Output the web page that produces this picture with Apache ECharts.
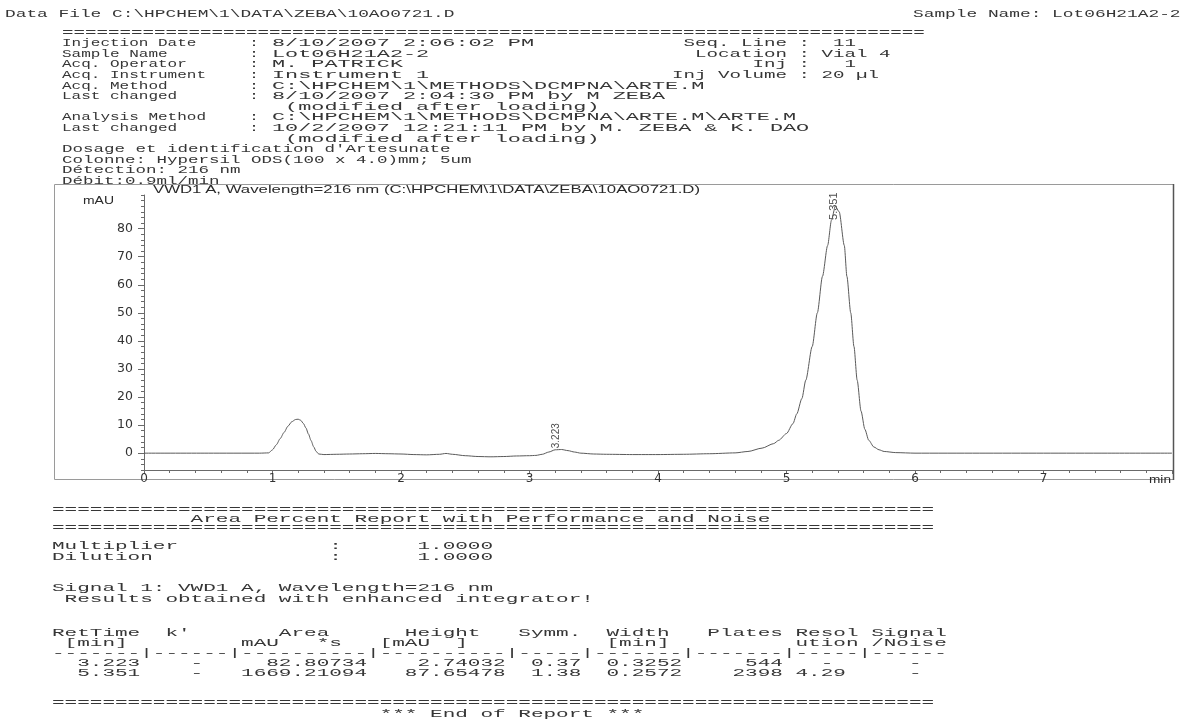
<!DOCTYPE html>
<html><head><meta charset="utf-8">
<script src="https://cdn.jsdelivr.net/npm/echarts@6/dist/echarts.min.js"></script>
<style>
html,body{margin:0;padding:0;background:#fff;}
#wrap{position:relative;width:1184px;height:727px;overflow:hidden;background:#fff;}
#chart{position:absolute;left:0;top:0;width:1184px;height:727px;}
.t{position:absolute;white-space:pre;font-family:"Liberation Mono","DejaVu Sans Mono",monospace;color:#363636;transform-origin:0 0;margin:0;}
.s{position:absolute;white-space:pre;font-family:"Liberation Sans",Arial,sans-serif;color:#2a2a2a;transform-origin:0 0;margin:0;}
</style></head><body><div id="wrap"><div id="chart"></div></div>
<script>
// ---------- chart data ----------
const timeMin = [
  0, 0.5, 0.9, 0.97, 1.0, 1.03, 1.06, 1.09, 1.12, 1.15,
  1.18, 1.2, 1.22, 1.24, 1.26, 1.28, 1.3, 1.32, 1.34, 1.36,
  1.4, 1.5, 1.6, 1.7, 1.8, 1.9, 2.0, 2.1, 2.2, 2.3,
  2.35, 2.4, 2.5, 2.6, 2.7, 2.8, 2.9, 3.0, 3.05, 3.1,
  3.15, 3.2, 3.25, 3.3, 3.35, 3.4, 3.5, 3.6, 3.8, 4.0,
  4.2, 4.4, 4.6, 4.7, 4.81, 4.9, 4.94, 5.0, 5.05, 5.08,
  5.12, 5.15, 5.2, 5.24, 5.28, 5.32, 5.35, 5.38, 5.41, 5.45,
  5.47, 5.5, 5.525, 5.55, 5.58, 5.61, 5.64, 5.68, 5.72, 5.76,
  5.85, 6.0, 6.5, 7.0, 7.5, 8.0
];
const signalMAU = [
  0, 0, 0, 0.1, 1.2, 3.0, 5.2, 7.4, 9.6, 11.2,
  12.0, 12.1, 11.7, 10.6, 9.0, 6.8, 4.5, 2.3, 0.6, -0.3,
  -0.5, -0.4, -0.3, -0.2, -0.1, -0.2, -0.3, -0.5, -0.6, -0.4,
  -0.1, -0.4, -0.9, -1.2, -1.3, -1.2, -1.0, -0.9, -0.8, -0.4,
  0.4, 1.2, 1.3, 0.9, 0.4, 0.0, -0.3, -0.4, -0.5, -0.5,
  -0.4, -0.2, 0.1, 0.6, 1.8, 3.4, 4.6, 7.0, 10.5, 14.0,
  19.5, 26, 38, 50, 63, 74, 83, 88, 86, 74,
  63, 50, 38, 26, 15, 8.5, 4.6, 2.2, 1.2, 0.6,
  0.2, 0, 0, 0, 0, 0
];
const xTickLabels = ['0','1','2','3','4','5','6','7'];
const yTickValues = [0,10,20,30,40,50,60,70,80];
const peakLabels = ['3.223','5.351'];
const peakApexTime = [3.23, 5.38];
const peakApexMAU = [1.4, 88];

// ---------- report text ----------
const dataFileLine = 'Data File C:\\HPCHEM\\1\\DATA\\ZEBA\\10AO0721.D';
const sampleNameTop = 'Sample Name: Lot06H21A2-2';
const headerLabels = [
  'Injection Date', 'Sample Name', 'Acq. Operator', 'Acq. Instrument', 'Acq. Method',
  'Last changed', '', 'Analysis Method', 'Last changed', ''
];
const headerValues = [
  '8/10/2007 2:06:02 PM',
  'Lot06H21A2-2',
  'M. PATRICK',
  'Instrument 1',
  'C:\\HPCHEM\\1\\METHODS\\DCMPNA\\ARTE.M',
  '8/10/2007 2:04:30 PM by M ZEBA',
  ' (modified after loading)',
  'C:\\HPCHEM\\1\\METHODS\\DCMPNA\\ARTE.M\\ARTE.M',
  '10/2/2007 12:21:11 PM by M. ZEBA & K. DAO',
  ' (modified after loading)'
];
const headerNotes = [
  "Dosage et identification d'Artesunate",
  'Colonne: Hypersil ODS(100 x 4.0)mm; 5um',
  'Détection: 216 nm',
  'Débit:0.9ml/min'
];
const headerRight = [
  ' Seq. Line :  11',
  '  Location : Vial 4',
  '       Inj :   1',
  'Inj Volume : 20 µl'
];
const chartTitle = 'VWD1 A, Wavelength=216 nm (C:\\HPCHEM\\1\\DATA\\ZEBA\\10AO0721.D)';

function place(parts){ let s=''; for(const [c,t] of parts){ while(s.length<c) s+=' '; s+=t; } return s; }
function placeR(parts){ return place(parts.map(([e,t])=>[e-t.length+1,t])); }
const eqLine = n => '='.repeat(n);

const tableLines = [
  place([[0,'RetTime'],[9,"k'"],[18,'Area'],[28,'Height'],[37,'Symm.'],[44,'Width'],[52,'Plates'],[59,'Resol'],[65,'Signal']]),
  place([[1,'[min]'],[15,'mAU'],[21,'*s'],[26,'[mAU'],[32,']'],[44,'[min]'],[59,'ution'],[65,'/Noise']]),
  '-------|------|----------|----------|-----|-------|-------|-----|------',
  placeR([[6,'3.223'],[11,'-'],[24,'82.80734'],[35,'2.74032'],[41,'0.37'],[49,'0.3252'],[57,'544'],[61,'-'],[68,'-']]),
  placeR([[6,'5.351'],[11,'-'],[24,'1669.21094'],[35,'87.65478'],[41,'1.38'],[49,'0.2572'],[57,'2398'],[62,'4.29'],[68,'-']])
];

// ---------- layout helpers ----------
const wrap = document.getElementById('wrap');
const FS = 10.5;
function mono(x, yc, charW, lines, lh){
  lh = lh || 10.6;
  const d = document.createElement('div');
  d.className = 't';
  d.style.left = x + 'px';
  d.style.top = (yc - lh/2) + 'px';
  d.style.fontSize = FS + 'px';
  d.style.lineHeight = lh + 'px';
  d.style.transform = 'scaleX(' + (charW/(FS*0.6)) + ')';
  d.textContent = lines.join('\n');
  wrap.appendChild(d);
  return d;
}
function sans(x, yc, w, text, fs){
  const d = document.createElement('div');
  d.className = 's';
  d.style.left = x + 'px';
  d.style.top = (yc - fs*0.6) + 'px';
  d.style.fontSize = fs + 'px';
  d.style.lineHeight = (fs*1.2) + 'px';
  d.textContent = text;
  wrap.appendChild(d);
  const nat = d.getBoundingClientRect().width;
  d.style.transform = 'scaleX(' + (w/nat) + ')';
  return d;
}

// ---------- chart ----------
const chart = echarts.init(document.getElementById('chart'), null, {renderer:'canvas', width:1184, height:727});
const axisColor = '#6a6a6a';
chart.setOption({
  animation:false,
  backgroundColor:'#fff',
  grid:{left:144, right:12, top:195, bottom:257},
  xAxis:{
    type:'value', min:0, max:8, interval:1,
    axisLine:{show:true, onZero:false, lineStyle:{color:axisColor, width:1}},
    axisTick:{show:true, length:4, lineStyle:{color:axisColor}},
    minorTick:{show:true, splitNumber:5, length:3, lineStyle:{color:axisColor}},
    axisLabel:{margin:3, color:'#333', fontFamily:'DejaVu Sans', fontSize:12,
      formatter:(v)=>{ const i=Math.round(v); return (Math.abs(v-i)<1e-6 && i<xTickLabels.length) ? xTickLabels[i] : ''; }},
    splitLine:{show:false}
  },
  yAxis:[{
    type:'value', min:-6, max:92,
    axisLine:{show:true, onZero:false, lineStyle:{color:axisColor, width:1}},
    axisTick:{show:true, customValues:yTickValues, length:6, lineStyle:{color:axisColor}},
    axisLabel:{show:true, customValues:yTickValues, margin:11, color:'#333', fontFamily:'DejaVu Sans', fontSize:12.5},
    splitLine:{show:false}
  },{
    type:'value', min:-6, max:92, interval:2, position:'left',
    axisLine:{show:false},
    axisTick:{show:true, length:3, lineStyle:{color:axisColor}},
    axisLabel:{show:false},
    splitLine:{show:false}
  }],
  series:[{
    type:'line', yAxisIndex:0,
    data: timeMin.map((t,i)=>[t, signalMAU[i]]),
    showSymbol:false, smooth:0.25, smoothMonotone:'x',
    lineStyle:{color:'#5a5a5a', width:1}
  },{
    type:'scatter', yAxisIndex:0, symbolSize:0,
    data: peakLabels.map((s,i)=>({value:[peakApexTime[i], peakApexMAU[i]], name:s,
      label:{show:true, formatter:s, rotate:90, position:'inside',
        align: i===0 ? 'left' : 'center', verticalAlign:'middle',
        offset: i===0 ? [0,-3] : [0,-1],
        fontFamily:'Liberation Sans Narrow, Liberation Sans, Arial',
        fontSize: i===0 ? 10 : 11, color:'#1a1a1a',
        backgroundColor: i===0 ? 'transparent' : '#fff', padding:[0,1]}})),
    silent:true
  }],
  graphic:[
    {type:'rect', shape:{x:54.5, y:184.5, width:1119, height:295}, style:{fill:null, stroke:'#9a9a9a', lineWidth:1}, silent:true},
    {type:'line', shape:{x1:1173.5, y1:184, x2:1173.5, y2:480}, style:{stroke:'#555', lineWidth:1.5}, silent:true}
  ]
});

// ---------- text ----------
mono(5, 14, 10.7, [dataFileLine]);
mono(1180 - sampleNameTop.length*10.7, 14, 10.7, [sampleNameTop]);
mono(62, 33, 11.5, [eqLine(75)]);
mono(62, 43.5, 9.6, headerLabels);
mono(249, 43.5, 10.0, headerLabels.map(l => l ? ':' : ''));
mono(272, 43.5, 13.1, headerValues);
mono(62, 43.5 + 10*10.6, 10.5, headerNotes);
mono(672, 43.5, 11.5, headerRight);
sans(153, 190, 547, chartTitle, 11);
sans(83, 201, 31, 'mAU', 11);
sans(1149, 480, 22, 'min', 11);

const bw = 12.6;
mono(52, 510, bw, [eqLine(70)]);
mono(52, 519, bw, [place([[11,'Area Percent Report with Performance and Noise']])]);
mono(52, 528, bw, [eqLine(70)]);
mono(52, 546, bw, [place([[0,'Multiplier'],[22,':'],[29,'1.0000']]), place([[0,'Dilution'],[22,':'],[29,'1.0000']])], 11);
mono(52, 588, bw, ['Signal 1: VWD1 A, Wavelength=216 nm', ' Results obtained with enhanced integrator!'], 11);
mono(52, 633, bw, tableLines, 10.1);
mono(52, 703, bw, [eqLine(70)]);
mono(52, 714, bw, [place([[26,'*** End of Report ***']])]);
</script></body></html>
